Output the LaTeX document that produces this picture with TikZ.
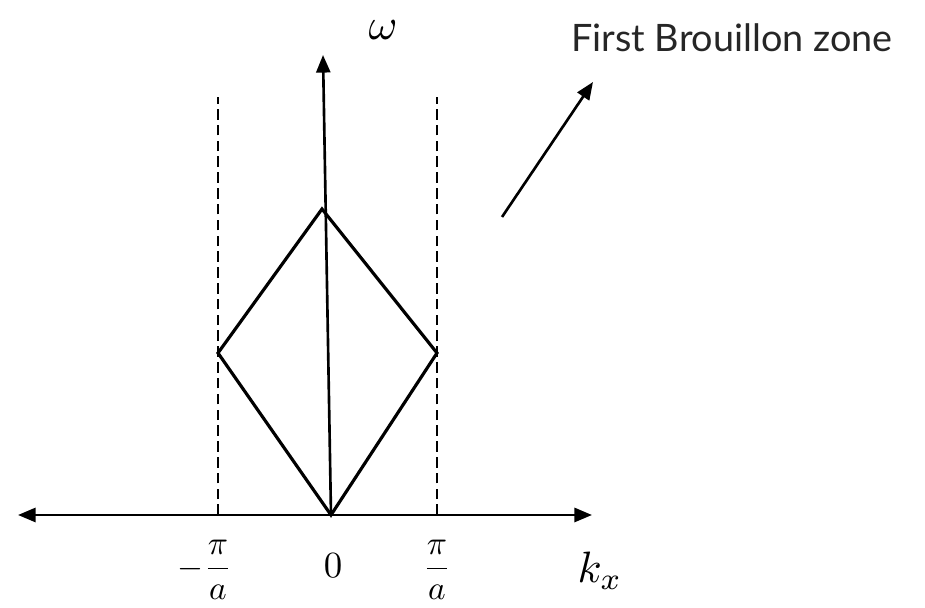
\documentclass[tikz,border=0pt]{standalone}
\usepackage{amsmath}
\usepackage{fontspec}
\newfontfamily\labelfont{Lato}
\usetikzlibrary{arrows.meta}
\tikzset{
    tip/.style={-{Triangle[length=10pt,width=8pt]}},
    axis/.style={line width=1.5pt},
    band/.style={line width=1.8pt, line join=miter},
    zoneedge/.style={line width=0.9pt, dash pattern=on 6pt off 3pt},
}
\begin{document}
\begin{tikzpicture}
    \useasboundingbox (0,0) rectangle (18.5,12.16);
    % Ejes
    \coordinate (O) at (6.62,1.86);
    \coordinate (kmin) at (0.36,1.86);
    \coordinate (kmax) at (11.84,1.86);
    \coordinate (wtop) at (6.46,11.06);
    \draw[axis, {Triangle[length=10pt,width=8pt]}-{Triangle[length=10pt,width=8pt]}] (kmin) -- (kmax);
    \draw[axis, tip] (O) -- (wtop);

    % Bordes de la zona
    \draw[zoneedge] (4.36,1.86) -- (4.36,10.22);
    \draw[zoneedge] (8.74,1.86) -- (8.74,10.22);

    % Rombo
    \coordinate (L) at (4.36,5.10);
    \coordinate (T) at (6.44,7.98);
    \coordinate (R) at (8.74,5.10);
    \draw[band] (O) -- (L) -- (T) -- (R) -- cycle;

    % Etiquetas
    \node[scale=2.5, inner sep=0pt] (w) at (7.66,11.56) {$\omega$};
    \node[scale=2.5] (kx) at (12.0,0.74) {$k_x$};
    \node[scale=1.9] (mpia) at (4.10,0.76) {$-\dfrac{\pi}{a}$};
    \node[scale=2.1] (zero) at (6.66,0.84) {$0$};
    \node[scale=1.9] (pia) at (8.74,0.76) {$\dfrac{\pi}{a}$};

    % Primera zona
    \node[text=black!85] (zone) at (14.64,11.40) {\labelfont\fontsize{21.5}{24}\selectfont First Brouillon zone};
    \coordinate (pstart) at (10.04,7.82);
    \coordinate (pend) at (11.86,10.52);
    \draw[line width=1.5pt, tip] (pstart) -- (pend);
\end{tikzpicture}
\end{document}
